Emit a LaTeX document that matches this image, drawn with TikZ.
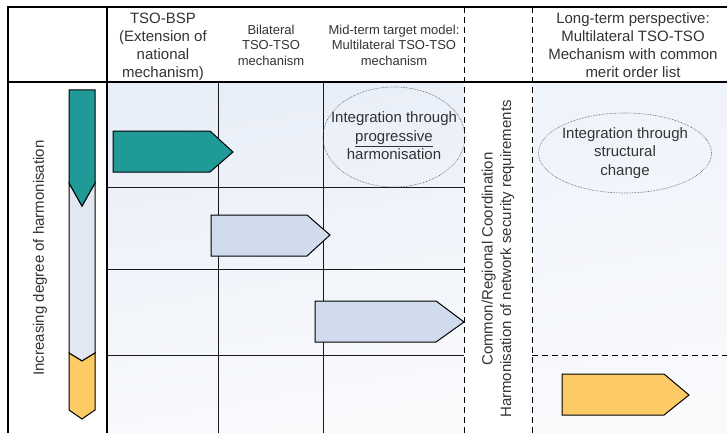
\documentclass[tikz,border=0pt]{standalone}
\usepackage{fontspec}
\setmainfont{Liberation Sans}
\usetikzlibrary{shapes.geometric}
\definecolor{txt}{HTML}{333333}
\definecolor{tealc}{HTML}{1F9A96}
\definecolor{bluec}{HTML}{D0DCEE}
\definecolor{barc}{HTML}{E2E8F2}
\definecolor{yelc}{HTML}{FDCB66}
\definecolor{bgtop}{HTML}{E8EEF8}
\definecolor{bgbot}{HTML}{F9FAFC}
\tikzset{
  heavy/.style={line width=1.6pt, black},
  gridline/.style={line width=0.8pt, black!90},
  dashline/.style={line width=0.8pt, black, dash pattern=on 6pt off 4pt},
  shapebox/.style={draw=black, line width=1pt, line join=miter},
  hdr/.style={text=txt, align=center, font=\fontsize{15}{18}\selectfont, inner sep=0pt},
  hdrs/.style={text=txt, align=center, font=\fontsize{13}{15.5}\selectfont, inner sep=0pt},
  lbl/.style={text=txt, align=center, font=\fontsize{15}{18.5}\selectfont, inner sep=0pt},
  oval/.style={ellipse, draw=black!70, densely dotted, line width=0.6pt, inner sep=0pt}
}
\begin{document}
\begin{tikzpicture}[x=1pt,y=-1pt]
\useasboundingbox (0,0) rectangle (727,433);
% backgrounds
\shade[top color=bgtop, bottom color=bgbot, shading angle=10] (108,83) rectangle (464,433);
\shade[top color=bgtop!70!white, bottom color=bgbot, shading angle=10] (532,83) rectangle (727,433);
% grid
\draw[gridline] (218,82) -- (218,433);
\draw[gridline] (323,82) -- (323,433);
\draw[gridline] (107,187) -- (464,187);
\draw[gridline] (107,269) -- (464,269);
\draw[gridline] (107,355) -- (464,355);
\draw[dashline] (464,7) -- (464,433);
\draw[dashline] (532,7) -- (532,433);
\draw[dashline] (532,355) -- (727,355);
\draw[heavy] (8,433) -- (8,7) -- (727,7);
\draw[heavy] (107,7) -- (107,433);
\draw[line width=1.2pt] (8,82) -- (727,82);
% headers
\node[hdr] (h1) at (163,46.5) {TSO-BSP\\(Extension of\\national\\mechanism)};
\node[hdrs] (h2) at (271,45) {Bilateral\\TSO-TSO\\mechanism};
\node[hdrs] (h3) at (394,45) {Mid-term target model:\\Multilateral TSO-TSO\\mechanism};
\node[hdr] (h5) at (633,45) {Long-term perspective:\\Multilateral TSO-TSO\\Mechanism with common\\merit order list};
% left bar
\draw[shapebox, fill=barc] (69,183) -- (82,206) -- (95,183) -- (95,353) -- (82,361) -- (69,353) -- cycle;
\draw[shapebox, fill=tealc] (69,90) -- (95,90) -- (95,183) -- (82,206) -- (69,183) -- cycle;
\draw[shapebox, fill=yelc] (69,353) -- (82,361) -- (95,353) -- (95,410) -- (82,419) -- (69,410) -- cycle;
\node[lbl, rotate=90] (deg) at (40,258) {Increasing degree of harmonisation};
% arrows
\draw[shapebox, fill=tealc] (113,131) -- (210,131) -- (233,152) -- (210,172) -- (113,172) -- cycle;
\draw[shapebox, fill=bluec] (211,215) -- (307,215) -- (330,235) -- (307,256) -- (211,256) -- cycle;
\draw[shapebox, fill=bluec] (315,301) -- (436,301) -- (464,322) -- (436,342) -- (315,342) -- cycle;
\draw[shapebox, fill=yelc] (562,374) -- (664,374) -- (689,395) -- (664,415) -- (562,415) -- cycle;
% ellipses
\node[oval, minimum width=142pt, minimum height=100pt] (e1) at (394,137) {};
\node[lbl] (t1) at (394,136) {Integration through\\\underline{progressive}\\harmonisation};
\node[oval, minimum width=173pt, minimum height=80pt] (e2) at (625,153) {};
\node[lbl] (t2) at (625,153) {Integration through\\structural\\change};
% middle rotated text
\node[lbl, rotate=90] (mid) at (498,259) {Common/Regional Coordination\\Harmonisation of network security requirements};
\end{tikzpicture}
\end{document}
